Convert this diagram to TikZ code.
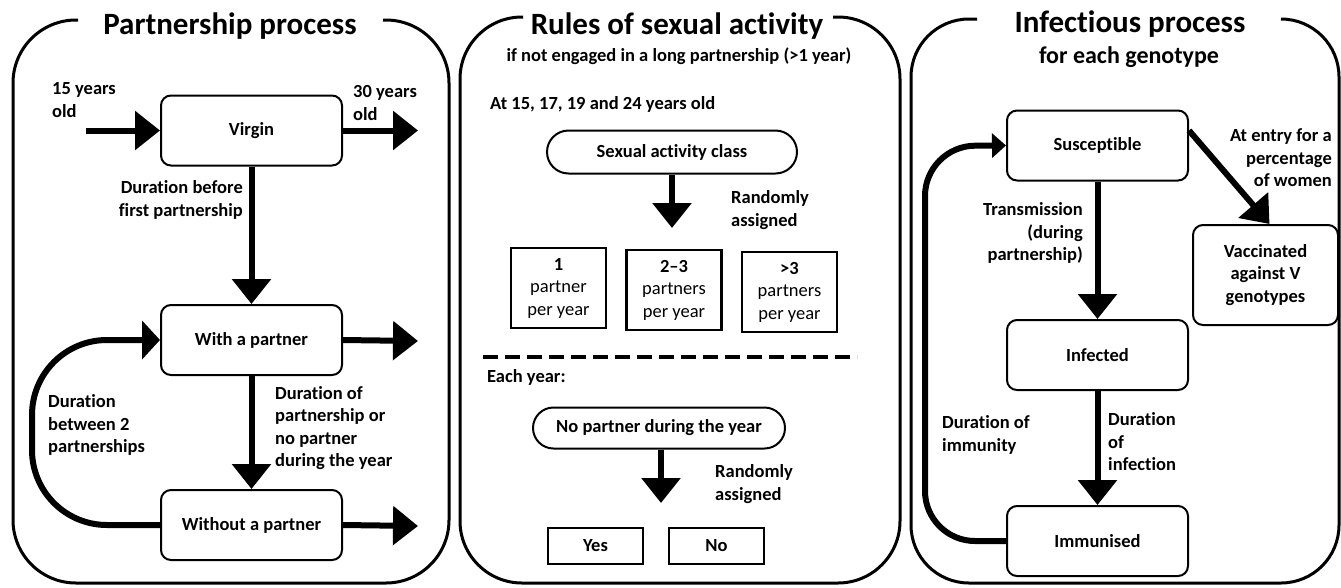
\documentclass[tikz,border=0pt]{standalone}
\usepackage{fontspec}
\setmainfont{Carlito}[Ligatures=NoCommon]
\usetikzlibrary{arrows.meta,shapes.misc,calc}
\begin{document}
\begin{tikzpicture}[x=1pt,y=-1pt,
 body/.style={font=\fontsize{18.5}{22.5}\selectfont\bfseries},
 lbl/.style={body,inner sep=0pt,align=left},
 rlbl/.style={body,inner sep=0pt,align=right},
 state/.style={draw,line width=2pt,rounded corners=10pt,minimum width=181pt,minimum height=70pt,body},
 pill/.style={draw,line width=2pt,rounded rectangle,body,inner sep=0pt},
 sq/.style={draw,line width=2.5pt,body,inner sep=0pt,align=center,minimum width=95pt},
 arr/.style={line width=6pt,-{Triangle[length=25pt,width=38pt]}},
 loopL/.style={line width=6pt},
 panel/.style={line width=3pt},
 ttl/.style={font=\fontsize{31}{36}\selectfont\bfseries,inner sep=0pt},
]
\useasboundingbox (0,0) rectangle (1341,587);
\fill[white] (0,0) rectangle (1341,587);

% panels
\draw[panel,rounded corners=63pt] (383,20) -- (449,20) -- (449,583) -- (13,583) -- (13,20) -- (78,20);
\draw[panel,rounded corners=62pt] (833,17) -- (900,17) -- (900,583) -- (460,583) -- (460,17) -- (523,17);
\draw[panel,rounded corners=58pt] (1283,19) -- (1339,19) -- (1339,583) -- (911,583) -- (911,19) -- (977,19);

% ---------- left panel
\node[ttl] (t1) at (230,26) {Partnership process};
\node[state] (virgin) at (251.5,130.5) {Virgin};
\node[state] (with) at (251.5,340) {With a partner};
\node[state] (without) at (251.5,525) {Without a partner};
\coordinate (in15) at (86,130.5);
\coordinate (out30) at (418,130.5);
\coordinate (outW) at (418,341);
\coordinate (outWo) at (418,526);
\coordinate (lc1) at (32,525);
\coordinate (lc2) at (32,340);
\draw[arr] (in15) -- (virgin.west);
\draw[arr] (virgin.east) -- (out30);
\draw[arr] (virgin) -- (with);
\draw[arr] (with) -- (without);
\draw[arr] (with.east) -- (outW);
\draw[arr] (without.east) -- (outWo);
\draw[loopL,rounded corners=75pt,-{Triangle[length=18pt,width=38pt]}] (without.west) -- (lc1) -- (lc2) -- (with.west);

\node[lbl,anchor=west] (l15) at (52,100) {15 years\\old};
\node[lbl,anchor=west] (l30) at (353,103) {30 years\\old};
\node[rlbl,anchor=east] (ldb) at (243,200) {Duration before\\first partnership};
\node[lbl,anchor=west] (ldp) at (275,428) {Duration of\\partnership or\\no partner\\during the year};
\node[lbl,anchor=west] (ldb2) at (48,425) {Duration\\between 2\\partnerships};

% ---------- middle panel
\node[ttl] (t2) at (677,26) {Rules of sexual activity};
\node[body,inner sep=0pt] (st2) at (679,56) {if not engaged in a long partnership (>1 year)};
\node[lbl,anchor=west] (at15) at (490,104) {At 15, 17, 19 and 24 years old};
\node[pill,minimum width=250pt,minimum height=43pt] (sac) at (672,152) {Sexual activity class};
\coordinate (sacTip) at (672,228);
\draw[arr] (sac) -- (sacTip);
\node[lbl,anchor=west] (ra1) at (731,210) {Randomly\\assigned};
\node[sq,minimum height=80pt] (b1) at (558.5,288) {1\\\mdseries partner\\\mdseries per year};
\node[sq,minimum height=80pt] (b2) at (674,290) {2--3\\\mdseries partners\\\mdseries per year};
\node[sq,minimum height=80pt] (b3) at (789.5,292) {>3\\\mdseries partners\\\mdseries per year};
\coordinate (dA) at (483,357);
\coordinate (dB) at (857,357);
\draw[line width=4pt,dash pattern=on 15pt off 7pt] (dA) -- (dB);
\node[lbl,anchor=west] (ey) at (487,377) {Each year:};
\node[pill,minimum width=252pt,minimum height=41pt] (np) at (659,428) {No partner during the year};
\coordinate (npTip) at (661,503);
\draw[arr] (np.south -| npTip) -- (npTip);
\node[lbl,anchor=west] (ra2) at (715,484) {Randomly\\assigned};
\node[sq,minimum height=36pt] (yes) at (595.5,546) {Yes};
\node[sq,minimum height=36pt] (no) at (716.5,546) {No};

% ---------- right panel
\node[ttl] (t3) at (1130,24) {Infectious process};
\node[font=\fontsize{24}{28}\selectfont\bfseries,inner sep=0pt] (st3) at (1129,57) {for each genotype};
\node[state] (susc) at (1097.5,145.5) {Susceptible};
\node[state] (inf) at (1097.5,355) {Infected};
\node[state] (imm) at (1097.5,541) {Immunised};
\node[state,minimum width=145pt,minimum height=100pt,align=center] (vacc) at (1265.5,275) {Vaccinated\\against V\\genotypes};
\coordinate (rc1) at (925,541);
\coordinate (rc2) at (925,146);
\draw[arr] (susc) -- (inf);
\draw[arr] (inf) -- (imm);
\draw[arr] ([yshift=15pt]susc.east) -- ([xshift=4pt]vacc.north);
\draw[loopL,rounded corners=50pt,-{Triangle[length=14pt,width=24pt]}] (imm.west) -- (rc1) -- (rc2) -- (susc.west);

\node[rlbl,anchor=east] (ltr) at (1083,233) {Transmission\\(during\\partnership)};
\node[rlbl,anchor=east] (lent) at (1332,158) {At entry for a\\percentage\\of women};
\node[lbl,anchor=west] (ldi) at (1108,442) {Duration\\of\\infection};
\node[lbl,anchor=west] (ldim) at (942,435) {Duration of\\immunity};
\end{tikzpicture}
\end{document}
